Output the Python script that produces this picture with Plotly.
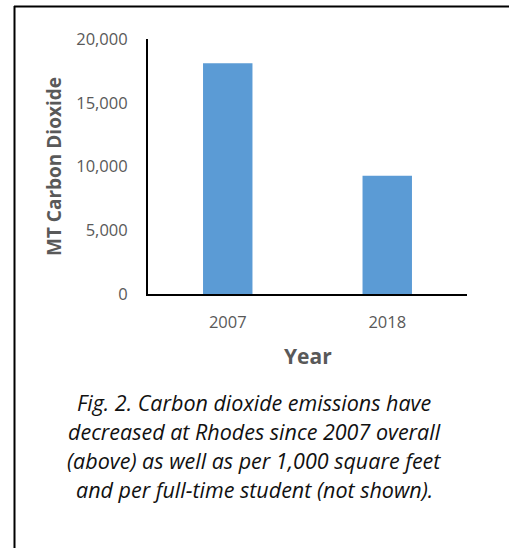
import plotly.graph_objects as go

years = ["2007", "2018"]
emissions = [18100, 9280]
y_ticks = [0, 5000, 10000, 15000, 20000]
y_tick_labels = ["0", "5,000", "10,000", "15,000", "20,000"]
caption_lines = [
    "Fig. 2. Carbon dioxide emissions have",
    "decreased at Rhodes since 2007 overall",
    "(above) as well as per 1,000 square feet",
    "and per full-time student (not shown).",
]

W, H = 509, 548
px = lambda x: x / W
py = lambda y: 1 - y / H

fig = go.Figure(go.Bar(x=years, y=emissions, marker=dict(color="#5b9bd5", line=dict(width=0)),
                       width=0.31))

gray = "#595959"
fig.update_layout(
    width=W, height=H, margin=dict(l=0, r=0, t=0, b=0),
    paper_bgcolor="white", plot_bgcolor="white", showlegend=False,
    font=dict(family="Open Sans", color=gray),
    xaxis=dict(domain=[px(148), px(467)], range=[-0.5, 1.5], showline=True, linecolor="black",
               linewidth=2, ticks="", showgrid=False, tickfont=dict(size=16.5, color=gray),
               ticklabelstandoff=12, fixedrange=True, automargin=False),
    yaxis=dict(domain=[py(294), py(39)], range=[0, 20000], showline=True, linecolor="black",
               linewidth=2, showgrid=False, zeroline=False, tickvals=y_ticks, ticktext=y_tick_labels,
               tickfont=dict(size=16.5, color=gray), ticklabelstandoff=15, fixedrange=True,
               automargin=False),
)

annotations = [
    dict(text="<b>Year</b>", x=px(308), y=py(356), xref="paper", yref="paper", showarrow=False,
         font=dict(size=21, color=gray), xanchor="center", yanchor="middle"),
    dict(text="<b>MT Carbon Dioxide</b>", x=px(54), y=py(167), xref="paper", yref="paper",
         showarrow=False, textangle=-90, font=dict(size=19, color=gray), xanchor="center",
         yanchor="middle"),
]
line_y = [402, 431, 460, 489]
for txt, yy in zip(caption_lines, line_y):
    annotations.append(dict(text="<i>" + txt + "</i>", x=px(254), y=py(yy), xref="paper", yref="paper",
                            showarrow=False, font=dict(size=21.5, color="#111111", family="Open Sans"),
                            xanchor="center", yanchor="middle"))
fig.update_layout(annotations=annotations)

fig.add_shape(type="line", xref="paper", yref="paper", x0=px(14.5), x1=px(14.5), y0=py(6), y1=-0.01,
              line=dict(color="black", width=2))
fig.add_shape(type="line", xref="paper", yref="paper", x0=px(14), x1=1.01, y0=py(6.5), y1=py(6.5),
              line=dict(color="black", width=2))

fig.write_html("out.html")
